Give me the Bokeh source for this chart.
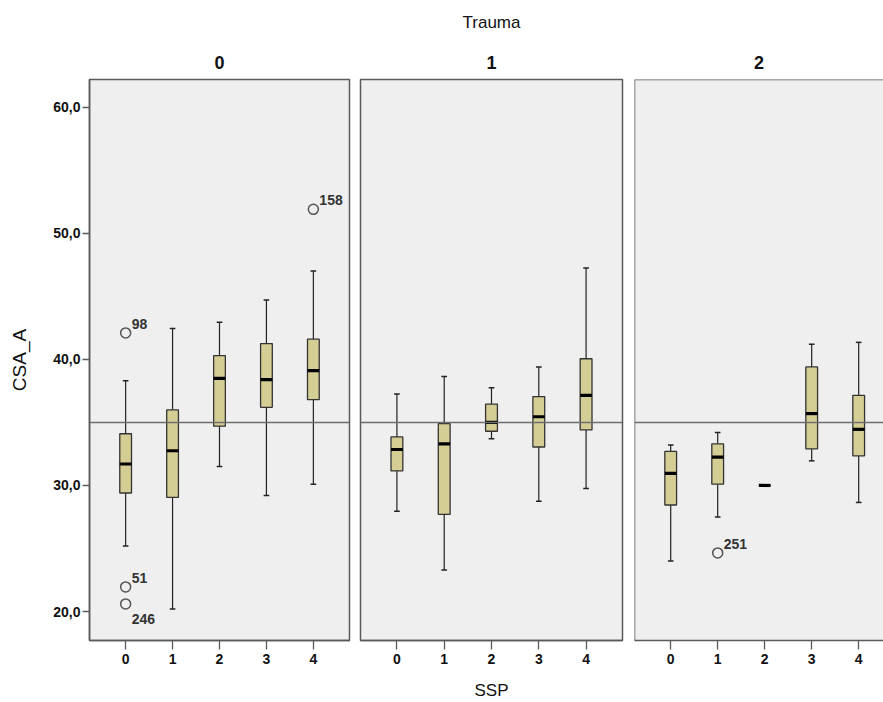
import numpy as np
from bokeh.plotting import figure
from bokeh.layouts import row
from bokeh.models import (ColumnDataSource, FixedTicker, Span, Title, Range1d)
from bokeh.core.properties import value
from bokeh.embed import file_html
from bokeh.resources import INLINE

# ---------------- data ----------------
SSP = [0, 1, 2, 3, 4]
SSP_LABELS = ["0", "1", "2", "3", "4"]
TRAUMA_GROUPS = ["0", "1", "2"]
Y_TICKS = [20, 30, 40, 50, 60]
Y_TICK_LABELS = ["20,0", "30,0", "40,0", "50,0", "60,0"]
REF_LINE = 35.0

# Trauma = 0
t0_wlo = [25.2, 20.2, 31.5, 29.2, 30.1]
t0_q1 = [29.4, 29.05, 34.7, 36.2, 36.8]
t0_med = [31.7, 32.75, 38.5, 38.4, 39.1]
t0_q3 = [34.1, 36.0, 40.3, 41.25, 41.6]
t0_whi = [38.3, 42.45, 42.95, 44.7, 47.0]
t0_out_x = [0, 0, 0, 4]
t0_out_y = [42.1, 21.95, 20.6, 51.9]
t0_out_id = ["98", "51", "246", "158"]

# Trauma = 1
t1_wlo = [27.95, 23.3, 33.7, 28.75, 29.75]
t1_q1 = [31.15, 27.7, 34.3, 33.05, 34.4]
t1_med = [32.85, 33.3, 35.0, 35.45, 37.15]
t1_q3 = [33.85, 34.9, 36.45, 37.05, 40.05]
t1_whi = [37.25, 38.65, 37.75, 39.4, 47.25]
t1_out_x = []
t1_out_y = []
t1_out_id = []

# Trauma = 2
t2_wlo = [24.0, 27.5, 30.0, 31.95, 28.65]
t2_q1 = [28.45, 30.1, 30.0, 32.9, 32.35]
t2_med = [30.95, 32.25, 30.0, 35.7, 34.45]
t2_q3 = [32.7, 33.3, 30.0, 39.4, 37.15]
t2_whi = [33.2, 34.2, 30.0, 41.2, 41.35]
t2_out_x = [1]
t2_out_y = [24.65]
t2_out_id = ["251"]

# ---------------- style ----------------
FONT = "Liberation Sans"
BOX_FILL = "#D5CE94"
FRAME_BG = "#F0EFF0"
BORDER = "#5a5a5a"
BOX_W = 0.25
CAP_W = 0.12
LABEL_BELOW = {"246"}

H = 702
TOP = 79
BOTTOM = 61
Y0, Y1 = 17.7, 62.2
XS, XE = -0.77, 4.77


def style_title(t, bold=True, size="18px"):
    t.align = "center"
    t.vertical_align = "top"
    t.text_font = FONT
    t.text_font_size = size
    t.text_font_style = "bold" if bold else "normal"
    t.text_color = "#111111"


def make_panel(title, wlo, q1, med, q3, whi, ox, oy, oid, width, left, right,
               x_end=XE, first=False, middle=False, last=False):
    p = figure(width=width, height=H, output_backend="svg", toolbar_location=None,
               x_range=Range1d(XS, x_end), y_range=Range1d(Y0, Y1),
               min_border_left=left, min_border_right=right,
               min_border_top=TOP, min_border_bottom=BOTTOM,
               background_fill_color=FRAME_BG, border_fill_color="white")
    p.grid.visible = False
    if middle:
        # outer title: Trauma ; inner title: panel label
        p.title.text = "Trauma"
        style_title(p.title, bold=False, size="17px")
        p.title.standoff = 25
        inner = Title(text=title, standoff=18)
        style_title(inner)
        p.add_layout(inner, "above")
    else:
        p.title.text = title
        style_title(p.title)
        p.title.standoff = 18

    if last:
        p.outline_line_color = None
    else:
        p.outline_line_color = BORDER
        p.outline_line_width = 1.5

    # x axis
    p.xaxis.ticker = FixedTicker(ticks=SSP)
    p.xaxis.major_label_overrides = {s: l for s, l in zip(SSP, SSP_LABELS)}
    p.xaxis.minor_tick_line_color = None
    p.xaxis.major_tick_out = 9
    p.xaxis.major_tick_in = 0
    p.xaxis.major_tick_line_color = BORDER
    p.xaxis.major_tick_line_width = 1.3
    p.xaxis.axis_line_color = BORDER
    p.xaxis.axis_line_width = 1.5
    p.xaxis.major_label_text_font = FONT
    p.xaxis.major_label_text_font_style = "bold"
    p.xaxis.major_label_text_font_size = "14px"
    p.xaxis.major_label_text_color = "#111111"
    p.xaxis.major_label_standoff = 4
    if middle:
        p.xaxis.axis_label = "SSP"
        p.xaxis.axis_label_text_font = FONT
        p.xaxis.axis_label_text_font_style = "normal"
        p.xaxis.axis_label_text_font_size = "17px"
        p.xaxis.axis_label_text_color = "#111111"
        p.xaxis.axis_label_standoff = 14

    # y axis
    if first:
        p.yaxis.ticker = FixedTicker(ticks=Y_TICKS)
        p.yaxis.major_label_overrides = {t: l for t, l in zip(Y_TICKS, Y_TICK_LABELS)}
        p.yaxis.minor_tick_line_color = None
        p.yaxis.major_tick_out = 7
        p.yaxis.major_tick_in = 0
        p.yaxis.major_tick_line_color = BORDER
        p.yaxis.major_tick_line_width = 1.3
        p.yaxis.axis_line_color = BORDER
        p.yaxis.axis_line_width = 1.5
        p.yaxis.major_label_text_font = FONT
        p.yaxis.major_label_text_font_style = "bold"
        p.yaxis.major_label_text_font_size = "14px"
        p.yaxis.major_label_text_color = "#111111"
        p.yaxis.major_label_standoff = 2
        p.yaxis.axis_label = "CSA_A"
        p.yaxis.axis_label_text_font = FONT
        p.yaxis.axis_label_text_font_style = "normal"
        p.yaxis.axis_label_text_font_size = "19px"
        p.yaxis.axis_label_text_color = "#111111"
        p.yaxis.axis_label_standoff = 20
    else:
        p.yaxis.visible = False

    if last:
        p.add_layout(Span(location=XS, dimension="height", line_color=BORDER, line_width=1.5))
        p.add_layout(Span(location=Y1, dimension="width", line_color=BORDER, line_width=1.5))

    # reference line
    p.add_layout(Span(location=REF_LINE, dimension="width", line_color="#6e6e6e", line_width=1.5))

    x = np.array(SSP, dtype=float)
    src = ColumnDataSource(dict(
        x=x, wlo=wlo, q1=q1, med=med, q3=q3, whi=whi,
        cl=x - CAP_W / 2, cr=x + CAP_W / 2,
        ml=x - BOX_W / 2, mr=x + BOX_W / 2,
    ))
    # whiskers
    p.segment(x0="x", y0="q3", x1="x", y1="whi", source=src, line_color="#222222", line_width=1.2)
    p.segment(x0="x", y0="q1", x1="x", y1="wlo", source=src, line_color="#222222", line_width=1.2)
    p.segment(x0="cl", y0="whi", x1="cr", y1="whi", source=src, line_color="#222222", line_width=1.5)
    p.segment(x0="cl", y0="wlo", x1="cr", y1="wlo", source=src, line_color="#222222", line_width=1.5)
    # boxes
    p.vbar(x="x", width=BOX_W, bottom="q1", top="q3", source=src,
           fill_color=BOX_FILL, line_color="#333333", line_width=1.3)
    # medians
    p.segment(x0="ml", y0="med", x1="mr", y1="med", source=src, line_color="black", line_width=3.2)

    # outliers
    if len(ox):
        xoff = [6 for _ in oid]
        yoff = [-4 if i not in LABEL_BELOW else 20 for i in oid]
        osrc = ColumnDataSource(dict(x=ox, y=oy, id=oid, xo=xoff, yo=yoff))
        p.scatter(x="x", y="y", source=osrc, marker="circle", size=10,
                  fill_color=None, line_color="#555555", line_width=1.5)
        p.text(x="x", y="y", text="id", source=osrc, x_offset="xo", y_offset="yo",
               text_font=value(FONT), text_font_style="bold", text_font_size="14px",
               text_color="#333333", text_baseline="bottom", text_align="left")
    return p


p0 = make_panel(TRAUMA_GROUPS[0], t0_wlo, t0_q1, t0_med, t0_q3, t0_whi,
                t0_out_x, t0_out_y, t0_out_id, width=354, left=89, right=5, first=True)
p1 = make_panel(TRAUMA_GROUPS[1], t1_wlo, t1_q1, t1_med, t1_q3, t1_whi,
                t1_out_x, t1_out_y, t1_out_id, width=274, left=6, right=6, middle=True)
p2 = make_panel(TRAUMA_GROUPS[2], t2_wlo, t2_q1, t2_med, t2_q3, t2_whi,
                t2_out_x, t2_out_y, t2_out_id, width=255, left=6, right=0,
                x_end=XS + (883 - 634) / 47.0, last=True)

layout = row(p0, p1, p2)
open("out.html", "w").write(file_html(layout, INLINE))
